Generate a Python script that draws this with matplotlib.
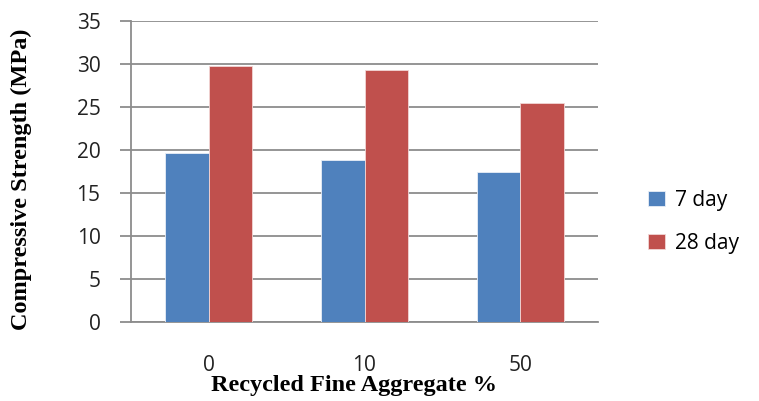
import numpy as np
import matplotlib
matplotlib.use("Agg")
import matplotlib.pyplot as plt

# values
categories = ["0", "10", "50"]
day7 = [19.6, 18.8, 17.5]
day28 = [29.8, 29.3, 25.5]
series_labels = ["7 day", "28 day"]
y_ticks = [0, 5, 10, 15, 20, 25, 30, 35]

blue = "#4F81BD"
red = "#C0504D"
grid_color = "#8C8C8C"

fig = plt.figure(figsize=(7.59, 4.01), dpi=100)
ax = fig.add_axes([131 / 759, 1 - 322 / 401, 467 / 759, 301 / 401])

x = np.arange(len(categories))
w = 0.28
ax.bar(x - w / 2, day7, w, color=blue, edgecolor="#E8EEF7", linewidth=0.6,
       label=series_labels[0], zorder=3)
ax.bar(x + w / 2, day28, w, color=red, edgecolor="#F2D6D5", linewidth=0.6,
       label=series_labels[1], zorder=3)

ax.set_xlim(-0.5, len(categories) - 0.5)
ax.set_ylim(0, 35)
ax.set_yticks(y_ticks)
ax.set_xticks(x)
ax.set_xticklabels(categories)

ax.yaxis.grid(True, color=grid_color, linewidth=1.3, zorder=0)
ax.set_axisbelow(True)
for side in ["top", "right"]:
    ax.spines[side].set_visible(False)
for side in ["left", "bottom"]:
    ax.spines[side].set_color(grid_color)
    ax.spines[side].set_linewidth(1.3)

ax.tick_params(axis="y", length=8, width=1.3, color=grid_color, pad=14,
               labelsize=15, labelcolor="#222222")
ax.tick_params(axis="x", length=0, pad=24, labelsize=15, labelcolor="#222222")
for lab in ax.get_xticklabels() + ax.get_yticklabels():
    lab.set_fontfamily("Open Sans")

ax.set_ylabel("Compressive Strength (MPa)", family="Liberation Serif",
              fontweight="bold", fontsize=17.5, color="black")
ax.yaxis.set_label_coords(-0.213, 0.475)
ax.set_xlabel("Recycled Fine Aggregate %", family="Liberation Serif",
              fontweight="bold", fontsize=17.5, color="black", va="center")
ax.xaxis.set_label_coords(0.478, -0.212)

fig.legend(loc="center left", bbox_to_anchor=(629 / 759, 1 - 222 / 401),
           frameon=False, handlelength=0.85, handleheight=0.75,
           handletextpad=0.45, labelspacing=1.05,
           prop={"family": "Open Sans", "size": 15})

fig.savefig("out.png", dpi=100)
